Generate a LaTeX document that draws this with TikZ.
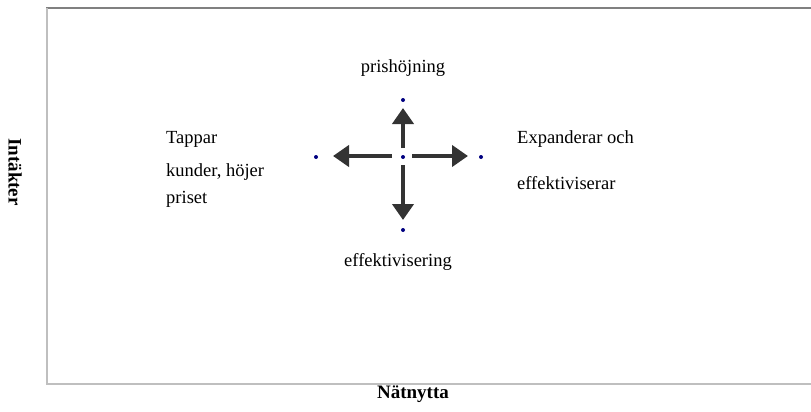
\documentclass[tikz,border=0pt]{standalone}
\usepackage{fontspec}
\setmainfont{Liberation Serif}
\usetikzlibrary{arrows.meta}
\definecolor{arrowgray}{HTML}{333333}
\definecolor{dotblue}{HTML}{000080}
\definecolor{topgray}{HTML}{808080}
\definecolor{axisgray}{HTML}{BFBFBF}
\tikzset{
  lbl/.style={inner sep=0pt, font=\fontsize{18.5}{22}\selectfont},
  axlbl/.style={inner sep=0pt, font=\fontsize{19}{22}\selectfont\bfseries},
  pt/.style={circle, fill=dotblue, inner sep=0pt, minimum size=4pt},
  bigarrow/.style={draw=arrowgray, line width=4pt, -{Triangle[length=16pt,width=21pt]}},
}
\begin{document}
\begin{tikzpicture}[x=1pt,y=-1pt]
\useasboundingbox (0,0) rectangle (811,412);
% frame
\draw[topgray, line width=2pt] (46,8) -- (811,8);
\draw[axisgray, line width=2pt] (47,8) -- (47,384) -- (811,384);
% dots
\node[pt] (c) at (403,157) {};
\node[pt] (t) at (403,100) {};
\node[pt] (b) at (403,230) {};
\node[pt] (l) at (316,157) {};
\node[pt] (r) at (481,157) {};
% arrows
\coordinate (cu) at (403,148);
\coordinate (cd) at (403,165);
\coordinate (cl) at (392,156);
\coordinate (cr) at (412,156);
\coordinate (tu) at (403,108);
\coordinate (td) at (403,220);
\coordinate (tl) at (333,156);
\coordinate (tr) at (468,156);
\draw[bigarrow] (cu) -- (tu);
\draw[bigarrow] (cd) -- (td);
\draw[bigarrow] (cl) -- (tl);
\draw[bigarrow] (cr) -- (tr);
% labels
\node[lbl] (ltop) at (403,68) {prishöjning};
\node[lbl] (lbot) at (398,262) {effektivisering};
\node[lbl, anchor=west, align=left] (lleft) at (166,169) {Tappar\\[11pt]kunder, höjer\\[5pt]priset};
\node[lbl, anchor=west, align=left] (lright) at (517,160) {Expanderar och\\[24pt]effektiviserar};
\node[axlbl, rotate=-90] (ylab) at (15,172) {Intäkter};
\node[axlbl] (xlab) at (413,394) {Nätnytta};
\end{tikzpicture}
\end{document}
